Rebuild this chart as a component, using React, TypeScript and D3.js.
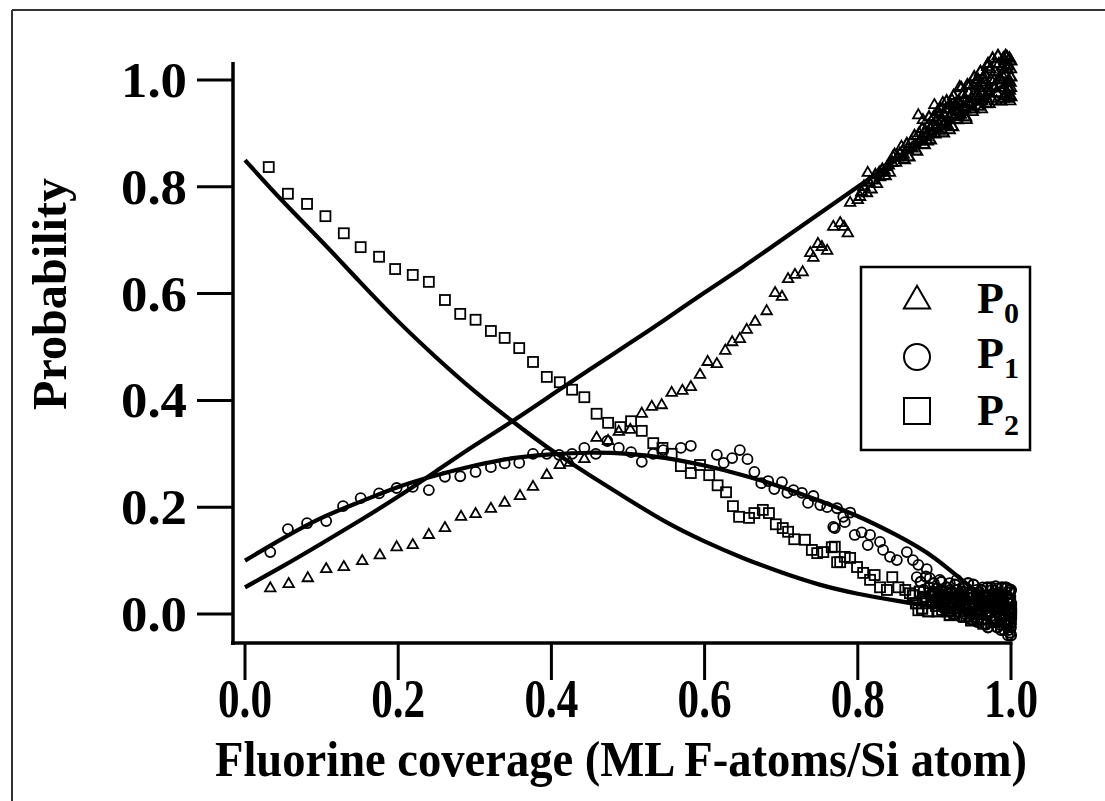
import React from "react";
import * as d3 from "d3";

// ---- data ----
const p0X = [0.033,0.057,0.082,0.106,0.129,0.153,0.176,0.198,0.219,0.240,0.261,0.282,0.301,0.321,0.339,0.359,0.376,0.394,0.411,0.424,0.443,0.459,0.474,0.488,0.503,0.518,0.531,0.544,0.557,0.571,0.582,0.594,0.604,0.616,0.627,0.636,0.646,0.655,0.666,0.681,0.692,0.701,0.709,0.718,0.728,0.738,0.742,0.748,0.753,0.760,0.768,0.777,0.782,0.787,0.790,0.800,0.803,0.812,0.813,0.818,0.825,0.829,0.835,0.838,0.842,0.846,0.850,0.857,0.860,0.865,0.870,0.875,0.879,0.880,0.885,0.888,0.892,0.896,0.900,0.903,0.907,0.911,0.914,0.918,0.920,0.923,0.926,0.929,0.933,0.936,0.939,0.942,0.945,0.948,0.950,0.953,0.956,0.959,0.962,0.964,0.967,0.969,0.972,0.974,0.977,0.979,0.981,0.984,0.986,0.988,0.990,0.992,0.994,0.995,0.997,0.998,1.000,1.000,0.999,0.996];
const p0Y = [0.048,0.056,0.067,0.084,0.088,0.099,0.110,0.125,0.129,0.148,0.161,0.182,0.187,0.197,0.208,0.221,0.238,0.260,0.279,0.283,0.290,0.330,0.324,0.341,0.345,0.375,0.388,0.391,0.414,0.418,0.425,0.448,0.472,0.468,0.493,0.509,0.515,0.532,0.547,0.567,0.601,0.594,0.627,0.635,0.640,0.676,0.667,0.693,0.687,0.680,0.725,0.732,0.725,0.713,0.770,0.775,0.781,0.788,0.826,0.795,0.805,0.818,0.830,0.837,0.826,0.856,0.845,0.875,0.860,0.870,0.885,0.878,0.934,0.900,0.925,0.905,0.915,0.900,0.953,0.925,0.935,0.957,0.920,0.945,0.906,0.962,0.930,0.950,0.987,0.940,0.965,0.925,0.975,0.950,0.940,0.995,0.960,0.985,0.945,1.005,0.970,1.024,0.955,1.000,0.985,1.015,0.960,1.030,0.990,1.010,0.965,1.035,0.975,1.043,1.000,0.970,1.020,0.985,0.960,1.025];
const p0DenseX = [0.805,0.808,0.815,0.820,0.823,0.828,0.832,0.836,0.840,0.845,0.848,0.852,0.855,0.861,0.864,0.867,0.871,0.874,0.877,0.881,0.884,0.887,0.889,0.893,0.895,0.898,0.901,0.904,0.906,0.909,0.912,0.915,0.917,0.919,0.921,0.924,0.927,0.930,0.932,0.934,0.937,0.940,0.941,0.944,0.946,0.949,0.951,0.954,0.957,0.958,0.961,0.963,0.966,0.968,0.971,0.973,0.975,0.978,0.980,0.982,0.985,0.987,0.989,0.991,0.993,0.996,0.998,0.999,1.000,0.997,0.993,
  0.883,0.887,0.891,0.895,0.899,0.902,0.908,0.911,0.913,0.916,0.922,0.925,0.928,0.931,0.935,0.938,0.943,0.947,0.952,0.955,0.960,0.962,0.965,0.970,0.972,0.976,0.979,0.983,0.986,0.990,0.992,0.995,0.998,1.000,1.000];
const p0DenseY = [0.790,0.800,0.808,0.812,0.822,0.826,0.832,0.820,0.840,0.845,0.860,0.855,0.862,0.850,0.880,0.855,0.872,0.895,0.866,0.885,0.908,0.878,0.893,0.930,0.887,0.915,0.898,0.940,0.905,0.922,0.900,0.945,0.915,0.930,0.952,0.912,0.945,0.925,0.960,0.935,0.972,0.945,0.930,0.958,0.990,0.965,0.945,0.980,1.000,0.950,0.975,0.990,1.010,0.955,0.985,1.020,0.965,1.000,1.030,0.975,1.005,0.960,1.025,0.985,1.010,0.965,1.040,0.995,1.005,0.985,1.045,
  0.890,0.900,0.885,0.910,0.930,0.910,0.945,0.915,0.935,0.960,0.935,0.970,0.955,0.940,0.985,0.950,0.990,0.955,1.005,0.970,1.015,0.960,0.995,1.030,0.975,1.040,0.985,1.045,1.000,1.040,0.970,1.020,0.980,1.035,0.968];

const p1X = [0.033,0.056,0.081,0.106,0.128,0.151,0.175,0.198,0.219,0.240,0.261,0.281,0.301,0.321,0.339,0.358,0.376,0.394,0.410,0.427,0.443,0.458,0.473,0.488,0.504,0.518,0.533,0.546,0.569,0.582,0.616,0.625,0.636,0.646,0.656,0.665,0.674,0.683,0.691,0.701,0.708,0.716,0.727,0.735,0.742,0.751,0.760,0.768,0.773,0.781,0.783,0.790,0.770,0.796,0.805,0.816,0.813,0.829,0.833,0.842,0.851,0.864,0.872,0.879,0.877,0.890,0.894,0.907,0.920,0.929,0.937,0.900,0.905,0.910,0.915,0.918,0.922,0.925,0.930,0.933,0.936,0.940,0.943,0.946,0.949,0.952,0.955,0.958,0.960,0.963,0.965,0.968,0.970,0.972,0.975,0.977,0.979,0.981,0.983,0.985,0.987,0.989,0.991,0.993,0.995,0.996,0.997,0.998,0.999,1.000,1.000,0.998];
const p1Y = [0.116,0.159,0.170,0.174,0.202,0.217,0.226,0.236,0.238,0.232,0.257,0.258,0.266,0.275,0.282,0.283,0.300,0.300,0.298,0.300,0.311,0.300,0.324,0.311,0.303,0.285,0.300,0.307,0.311,0.315,0.298,0.283,0.292,0.307,0.290,0.266,0.245,0.249,0.234,0.247,0.227,0.232,0.227,0.208,0.221,0.204,0.200,0.163,0.198,0.182,0.172,0.190,0.161,0.148,0.153,0.148,0.129,0.135,0.120,0.107,0.101,0.116,0.101,0.092,0.069,0.084,0.067,0.064,0.058,0.064,0.050,0.040,0.030,0.045,0.020,0.038,0.010,0.030,0.045,0.015,0.025,0.000,0.040,0.018,0.030,-0.005,0.045,0.010,0.025,0.050,-0.010,0.035,0.005,0.020,0.045,-0.015,0.030,0.008,0.048,-0.020,0.015,0.035,-0.030,0.005,0.049,-0.040,0.020,-0.010,0.040,0.000,-0.025,0.030];
const p1DenseX = [0.882,0.886,0.889,0.893,0.896,0.899,0.903,0.906,0.909,0.912,0.916,0.919,0.921,0.924,0.927,0.931,0.934,0.938,0.941,0.944,0.947,0.950,0.953,0.956,0.959,0.962,0.964,0.967,0.969,0.971,0.973,0.976,0.978,0.980,0.982,0.984,0.986,0.988,0.990,0.992,0.994,0.996,0.997,0.998,0.999,1.000,1.000,0.999,
  0.902,0.908,0.913,0.917,0.923,0.926,0.932,0.936,0.939,0.945,0.948,0.951,0.955,0.957,0.961,0.966,0.970,0.974,0.977,0.981,0.983,0.987,0.989,0.993,0.995,0.997,1.000,1.000];
const p1DenseY = [0.060,0.045,0.070,0.050,0.035,0.058,0.048,0.020,0.060,0.035,0.050,0.005,0.045,0.022,0.055,0.035,-0.005,0.048,0.020,0.058,0.005,0.040,0.020,-0.015,0.040,0.015,0.032,-0.020,0.050,0.025,-0.005,0.038,0.010,0.052,-0.025,0.030,0.000,0.050,0.012,-0.015,0.035,0.010,-0.030,0.045,-0.005,0.020,0.045,-0.035,
  0.030,0.045,0.010,0.030,0.040,0.000,0.028,0.042,0.012,0.030,-0.010,0.055,0.025,0.000,0.045,0.010,-0.025,0.050,0.015,-0.010,0.040,-0.030,0.020,0.050,-0.020,0.030,-0.040,0.005];

const p2X = [0.031,0.056,0.081,0.105,0.129,0.151,0.175,0.196,0.219,0.240,0.261,0.281,0.301,0.321,0.339,0.358,0.376,0.394,0.411,0.427,0.443,0.459,0.474,0.490,0.504,0.518,0.533,0.545,0.557,0.569,0.582,0.594,0.606,0.617,0.628,0.637,0.645,0.658,0.665,0.676,0.684,0.693,0.702,0.709,0.717,0.731,0.740,0.747,0.755,0.766,0.770,0.773,0.777,0.783,0.790,0.799,0.807,0.816,0.822,0.829,0.838,0.845,0.853,0.862,0.868,0.879,0.894,0.885,0.890,0.898,0.902,0.906,0.910,0.914,0.918,0.922,0.926,0.930,0.934,0.938,0.942,0.946,0.950,0.954,0.958,0.962,0.966,0.970,0.974,0.978,0.982,0.986,0.990,0.994,0.997,1.000,0.999];
const p2Y = [0.837,0.787,0.768,0.745,0.713,0.687,0.669,0.646,0.635,0.622,0.588,0.562,0.551,0.530,0.517,0.498,0.472,0.444,0.434,0.420,0.406,0.375,0.358,0.350,0.361,0.343,0.320,0.311,0.300,0.277,0.264,0.279,0.260,0.241,0.228,0.202,0.182,0.180,0.189,0.195,0.189,0.168,0.161,0.154,0.140,0.139,0.120,0.114,0.116,0.125,0.126,0.097,0.097,0.107,0.105,0.088,0.077,0.064,0.073,0.050,0.045,0.069,0.050,0.045,0.039,0.007,0.039,0.030,0.020,0.035,0.015,0.028,0.008,0.025,0.012,0.030,0.000,0.020,0.010,0.025,-0.005,0.015,0.030,0.000,0.018,-0.010,0.022,0.005,-0.015,0.012,0.028,-0.005,0.015,-0.020,0.010,-0.010,0.025];
const p2DenseX = [0.872,0.876,0.881,0.884,0.888,0.892,0.896,0.900,0.904,0.908,0.912,0.916,0.920,0.924,0.928,0.932,0.936,0.940,0.944,0.948,0.952,0.956,0.960,0.964,0.968,0.972,0.976,0.980,0.984,0.988,0.992,0.995,0.998,1.000,
  0.905,0.913,0.917,0.925,0.933,0.939,0.945,0.951,0.957,0.962,0.967,0.973,0.978,0.983,0.987,0.991,0.996,1.000];
const p2DenseY = [0.035,0.020,0.042,0.010,0.032,0.005,0.025,0.040,0.005,0.035,0.018,0.040,-0.002,0.022,0.038,0.005,0.030,0.015,0.035,-0.012,0.020,0.035,0.005,-0.018,0.030,0.015,0.035,-0.008,0.020,0.035,0.000,0.028,-0.015,0.012,
  0.020,0.030,0.005,0.012,0.025,-0.005,0.010,0.030,-0.010,0.020,0.000,0.025,-0.015,0.010,0.025,-0.010,0.020,0.000];

const fitX = [0,0.05,0.1,0.15,0.2,0.25,0.3,0.35,0.4,0.45,0.5,0.55,0.6,0.65,0.7,0.75,0.8,0.85,0.9,0.95,1.0];
const fitP0 = [0.05,0.09,0.132,0.175,0.22,0.268,0.316,0.362,0.41,0.458,0.505,0.553,0.602,0.65,0.70,0.75,0.80,0.85,0.90,0.95,1.0];
const fitP1 = [0.10,0.142,0.18,0.21,0.238,0.26,0.278,0.292,0.299,0.302,0.30,0.292,0.278,0.26,0.238,0.212,0.183,0.148,0.105,0.048,0.0];
const fitP2 = [0.85,0.772,0.698,0.622,0.548,0.48,0.417,0.36,0.307,0.26,0.215,0.172,0.136,0.105,0.078,0.055,0.038,0.025,0.014,0.007,0.003];

const xTicks = [0, 0.2, 0.4, 0.6, 0.8, 1.0];
const yTicks = [0, 0.2, 0.4, 0.6, 0.8, 1.0];
const legendLabels = ["0", "1", "2"];

const FONT = "'Liberation Serif', 'Times New Roman', serif";

export default function App() {
  const x = d3.scaleLinear().domain([0, 1]).range([245, 1011]);
  const y = d3.scaleLinear().domain([0, 1]).range([614, 80]);
  const line = d3
    .line<number>()
    .x((_, i) => x(fitX[i]))
    .curve(d3.curveNatural);
  const mk = (vals: number[]) => line.y((v) => y(v))(vals) || "";

  const tri = d3.symbol(d3.symbolTriangle, 48)() || "";
  const triBig = d3.symbol(d3.symbolTriangle, 300)() || "";
  const sw = 1.8;
  const swDense = 2.2;

  return (
    <svg
      width={1105}
      height={801}
      style={{ position: "absolute", left: 0, top: 0, background: "#fff" }}
      fontFamily={FONT}
    >
      {/* frame */}
      <line x1={12} y1={10} x2={1105} y2={10} stroke="#333" strokeWidth={2} />
      <line x1={12} y1={10} x2={12} y2={801} stroke="#333" strokeWidth={2} />

      {/* axes */}
      <line x1={233} y1={62} x2={233} y2={645} stroke="#000" strokeWidth={3.5} />
      <line x1={231} y1={643} x2={x(1) + 1.5} y2={643} stroke="#000" strokeWidth={3.5} />
      {yTicks.map((t) => (
        <g key={"y" + t}>
          <line x1={197} x2={233} y1={y(t)} y2={y(t)} stroke="#000" strokeWidth={3} />
          <text
            x={187}
            y={y(t) + 17}
            textAnchor="end"
            fontSize={50}
            fontWeight="bold"
            textLength={66}
            lengthAdjust="spacingAndGlyphs"
          >
            {t.toFixed(1)}
          </text>
        </g>
      ))}
      {xTicks.map((t) => (
        <g key={"x" + t}>
          <line x1={x(t)} x2={x(t)} y1={643} y2={680} stroke="#000" strokeWidth={3} />
          <text
            x={x(t)}
            y={717}
            textAnchor="middle"
            fontSize={54}
            fontWeight="bold"
            textLength={54}
            lengthAdjust="spacingAndGlyphs"
          >
            {t.toFixed(1)}
          </text>
        </g>
      ))}
      <text
        x={621}
        y={776}
        textAnchor="middle"
        fontSize={50}
        fontWeight="bold"
        textLength={812}
        lengthAdjust="spacingAndGlyphs"
      >
        Fluorine coverage (ML F-atoms/Si atom)
      </text>
      <text
        transform="translate(66,294) rotate(-90)"
        textAnchor="middle"
        fontSize={48}
        fontWeight="bold"
        textLength={232}
        lengthAdjust="spacingAndGlyphs"
      >
        Probability
      </text>

      {/* fits */}
      <path d={mk(fitP2)} fill="none" stroke="#000" strokeWidth={4.2} />
      <path d={mk(fitP0)} fill="none" stroke="#000" strokeWidth={4.2} />
      <path d={mk(fitP1)} fill="none" stroke="#000" strokeWidth={4.2} />

      {/* markers */}
      {p2X.map((v, i) => (
        <rect key={"s" + i} x={x(v) - 5} y={y(p2Y[i]) - 5} width={10} height={10} fill="none" stroke="#000" strokeWidth={sw} />
      ))}
      {p2DenseX.map((v, i) => (
        <rect key={"sd" + i} x={x(v) - 5} y={y(p2DenseY[i]) - 5} width={10} height={10} fill="none" stroke="#000" strokeWidth={swDense} />
      ))}
      {p1X.map((v, i) => (
        <circle key={"c" + i} cx={x(v)} cy={y(p1Y[i])} r={5} fill="none" stroke="#000" strokeWidth={sw} />
      ))}
      {p1DenseX.map((v, i) => (
        <circle key={"cd" + i} cx={x(v)} cy={y(p1DenseY[i])} r={5} fill="none" stroke="#000" strokeWidth={swDense} />
      ))}
      {p0X.map((v, i) => (
        <path key={"t" + i} d={tri} transform={`translate(${x(v)},${y(p0Y[i])})`} fill="none" stroke="#000" strokeWidth={sw} />
      ))}
      {p0DenseX.map((v, i) => (
        <path key={"td" + i} d={tri} transform={`translate(${x(v)},${y(p0DenseY[i])})`} fill="none" stroke="#000" strokeWidth={swDense} />
      ))}

      {/* legend */}
      <rect x={861} y={267} width={169} height={183} fill="#fff" stroke="#000" strokeWidth={2.5} />
      <path d={triBig} transform="translate(917,301)" fill="none" stroke="#000" strokeWidth={2} />
      <circle cx={917} cy={357} r={13} fill="none" stroke="#000" strokeWidth={2} />
      <rect x={904} y={398} width={26} height={26} fill="none" stroke="#000" strokeWidth={2} />
      {legendLabels.map((s, i) => (
        <text key={"l" + s} x={977} y={[313, 368, 425][i]} fontSize={44} fontWeight="bold">
          P
          <tspan fontSize={30} dy={10}>{s}</tspan>
        </text>
      ))}
    </svg>
  );
}
